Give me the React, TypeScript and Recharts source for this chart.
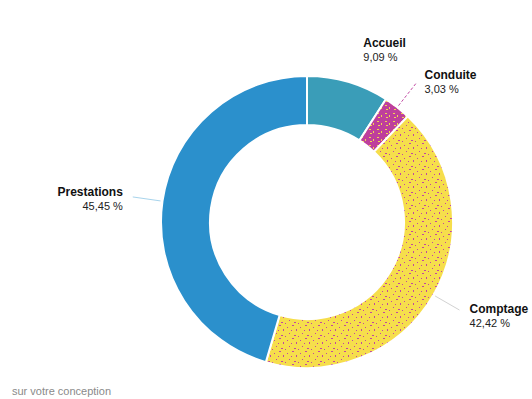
import { PieChart, Pie, Cell } from 'recharts';

const categories = ['Accueil', 'Conduite', 'Comptage', 'Prestations'];
const shares = [9.09, 3.03, 42.42, 45.45];
const fills = ['#3a9db8', 'url(#conduiteFill)', 'url(#comptageFill)', '#2b90cc'];
const leaderColors = ['none', '#c24aa3', '#d2d2d2', '#a8d4ec'];
const leaderDash = ['', '3 2', '', ''];

const data = categories.map((name, i) => ({ name, value: shares[i] }));

const RAD = Math.PI / 180;

const fmt = (v: number) => v.toFixed(2).replace('.', ',') + ' %';

function renderLabel(props: any) {
  const { cx, cy, midAngle, outerRadius, index } = props;
  const cos = Math.cos(-midAngle * RAD);
  const sin = Math.sin(-midAngle * RAD);
  const sx = cx + (outerRadius + 2) * cos;
  const sy = cy + (outerRadius + 2) * sin;
  const ex = cx + (outerRadius + 30) * cos;
  const ey = cy + (outerRadius + 30) * sin;
  const tx0 = cx + (outerRadius + 36) * cos;
  const ty = cy + (outerRadius + 36) * sin;
  const left = cos < 0;
  const tx = tx0 + (left ? -4 : 5);
  const anchor = left ? 'end' : 'start';
  return (
    <g key={'lbl' + index}>
      {leaderColors[index] !== 'none' && (
        <line x1={sx} y1={sy} x2={ex} y2={ey} stroke={leaderColors[index]} strokeWidth={1} strokeDasharray={leaderDash[index]} />
      )}
      <text x={tx} y={ty} textAnchor={anchor} fontSize={12} fontWeight="bold" fill="#111"
        fontFamily="'Liberation Sans', Arial, sans-serif">
        {categories[index]}
      </text>
      <text x={tx} y={ty + 14} textAnchor={anchor} fontSize={11} fill="#222"
        fontFamily="'Liberation Sans', Arial, sans-serif">
        {fmt(shares[index])}
      </text>
    </g>
  );
}

export default function App() {
  return (
    <div style={{ position: 'absolute', left: 0, top: 0, width: 532, height: 399, background: '#fff' }}>
      <PieChart width={532} height={399} margin={{ top: 0, right: 0, bottom: 0, left: 0 }}>
        <defs>
          <pattern id="comptageFill" patternUnits="userSpaceOnUse" width={13} height={13}>
            <rect width={13} height={13} fill="#f6de4c" />
            <rect x={1} y={2} width={1} height={1} fill="#c2489e" />
            <rect x={6} y={0} width={2} height={1} fill="#c2489e" />
            <rect x={10} y={4} width={1} height={2} fill="#c2489e" />
            <rect x={3} y={8} width={1} height={1} fill="#c2489e" />
            <rect x={8} y={10} width={2} height={1} fill="#c2489e" />
            <rect x={12} y={11} width={1} height={1} fill="#c2489e" />
            <rect x={5} y={5} width={1} height={1} fill="#c2489e" />
          </pattern>
          <pattern id="conduiteFill" patternUnits="userSpaceOnUse" width={8} height={8}>
            <rect width={8} height={8} fill="#be3f9c" />
            <rect x={1} y={1} width={2} height={1} fill="#f2d64e" />
            <rect x={5} y={3} width={1} height={2} fill="#f2d64e" />
            <rect x={2} y={5} width={2} height={1} fill="#f2d64e" />
          </pattern>
        </defs>
        <Pie
          data={data}
          dataKey="value"
          nameKey="name"
          cx={307}
          cy={222}
          innerRadius={97}
          outerRadius={146}
          startAngle={90}
          endAngle={-270}
          stroke="#fff"
          strokeWidth={2}
          label={renderLabel}
          labelLine={false}
          isAnimationActive={false}
        >
          {data.map((d, i) => (
            <Cell key={d.name} fill={fills[i]} />
          ))}
        </Pie>
      </PieChart>
      <div
        style={{
          position: 'absolute',
          left: 12,
          top: 385,
          fontSize: 11,
          color: '#8a8a8a',
          fontFamily: "'Liberation Sans', Arial, sans-serif",
        }}
      >
        sur votre conception
      </div>
    </div>
  );
}
